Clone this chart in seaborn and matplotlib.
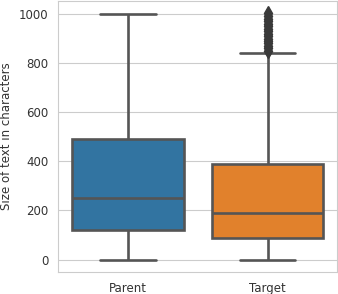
import pandas as pd
import seaborn as sns
import matplotlib.pyplot as plt

# text sizes (characters) for each group
parent_sizes = [0, 30, 60, 85, 105, 122, 150, 180, 205, 230, 252, 290, 330, 380,
                430, 493, 580, 680, 790, 900, 1000]
target_sizes = [0, 4, 8, 12, 17, 21, 25, 30, 34, 38, 43, 47, 51, 56, 60, 64, 69, 73, 77, 82, 86,
                91, 96, 101, 106, 111, 116, 121, 126, 131, 136, 141, 146, 152, 158, 164, 170,
                176, 180, 184, 188,
                198, 208, 218, 228, 238, 248, 258, 268, 278, 288, 298, 308, 318, 328, 338, 348,
                358, 368, 378, 390,
                460, 560, 680, 842, 850, 860, 870, 880, 890, 900, 910, 920, 930, 940, 950, 960,
                970, 980, 992, 1003]
groups = ['Parent', 'Target']

df = pd.DataFrame({
    'kind': [groups[0]] * len(parent_sizes) + [groups[1]] * len(target_sizes),
    'size': parent_sizes + target_sizes,
})

sns.set_style('whitegrid')
plt.rcParams['font.family'] = ['DejaVu Sans']

fig = plt.figure(figsize=(3.38, 2.94), dpi=100)
ax = fig.add_axes([0.172, 0.075, 0.826, 0.922])
sns.boxplot(data=df, x='kind', y='size', hue='kind', palette=['#1f77b4', '#ff7f0e'],
            linewidth=1.9, width=0.8, linecolor='#555555', ax=ax,
            flierprops=dict(marker='d', markersize=7,
                            markerfacecolor='#3a3a3a', markeredgecolor='#3a3a3a'))
ax.set_xlabel('')
ax.set_ylabel('Size of text in characters', fontsize=8.5, color='#333333')
ax.set_yticks([0, 200, 400, 600, 800, 1000])
ax.tick_params(labelsize=8.5, colors='#333333')
ax.set_xlim(-0.5, 1.5)

fig.savefig('out.png', dpi=100)
